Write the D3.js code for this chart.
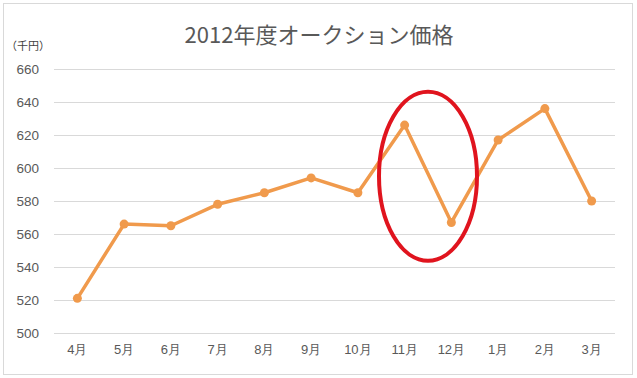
<!DOCTYPE html>
<html>
<head>
<meta charset="utf-8">
<script src="https://cdn.jsdelivr.net/npm/d3@7"></script>
<style>
  body { margin: 0; background: #fff; }
  svg { display: block; font-family: "Noto Sans CJK JP", "Noto Sans", sans-serif; }
</style>
</head>
<body>
<svg width="637" height="378"></svg>
<script>
const width = 637, height = 378;
const svg = d3.select("svg");

// data
const months = ["4月", "5月", "6月", "7月", "8月", "9月", "10月", "11月", "12月", "1月", "2月", "3月"];
const prices = [521, 566, 565, 578, 585, 594, 585, 626, 567, 617, 636, 580];
const yTicks = [500, 520, 540, 560, 580, 600, 620, 640, 660];

const plotLeft = 54, plotRight = 615, plotTop = 69, plotBottom = 333;

// chart border
svg.append("rect")
    .attr("x", 3.5).attr("y", 3.5)
    .attr("width", 629).attr("height", 371)
    .attr("fill", "#fff")
    .attr("stroke", "#d9d9d9");

const x = d3.scaleBand()
    .domain(months)
    .range([plotLeft, plotRight]);

const y = d3.scaleLinear()
    .domain([500, 660])
    .range([plotBottom, plotTop]);

// gridlines + y labels
const yAxis = svg.append("g")
    .attr("transform", `translate(${plotLeft},0)`)
    .call(d3.axisLeft(y).tickValues(yTicks).tickSize(-(plotRight - plotLeft)).tickPadding(15));
yAxis.select(".domain").remove();
yAxis.selectAll(".tick line").attr("stroke", "#d9d9d9");
yAxis.selectAll(".tick text")
    .attr("fill", "#595959")
    .style("font-size", "13.5px");

// x labels
const xAxis = svg.append("g")
    .attr("transform", `translate(0,${plotBottom})`)
    .call(d3.axisBottom(x).tickSize(0).tickPadding(12));
xAxis.select(".domain").remove();
xAxis.selectAll(".tick text")
    .attr("fill", "#595959")
    .style("font-size", "13px");

// title
svg.append("text")
    .attr("x", 319)
    .attr("y", 43)
    .attr("text-anchor", "middle")
    .attr("fill", "#595959")
    .style("font-size", "22px")
    .text("2012年度オークション価格");

// unit label
svg.append("text")
    .attr("x", 6)
    .attr("y", 50)
    .attr("fill", "#404040")
    .style("font-size", "11px")
    .text("（千円）");

// line
const line = d3.line()
    .x((d, i) => x(months[i]) + x.bandwidth() / 2)
    .y(d => y(d));

svg.append("path")
    .datum(prices)
    .attr("d", line)
    .attr("fill", "none")
    .attr("stroke", "#f09a4c")
    .attr("stroke-width", 3.5)
    .attr("stroke-linejoin", "round");

svg.selectAll(".dot")
    .data(prices)
    .enter().append("circle")
    .attr("class", "dot")
    .attr("cx", (d, i) => x(months[i]) + x.bandwidth() / 2)
    .attr("cy", d => y(d))
    .attr("r", 4.5)
    .attr("fill", "#f09a4c");

// red ellipse around 11月-12月
const cx = (x("11月") + x("12月") + x.bandwidth()) / 2;
svg.append("ellipse")
    .attr("cx", cx)
    .attr("cy", y(595))
    .attr("rx", 49)
    .attr("ry", y(545) - y(595) + 2)
    .attr("fill", "none")
    .attr("stroke", "#e0141e")
    .attr("stroke-width", 4);
</script>
</body>
</html>
